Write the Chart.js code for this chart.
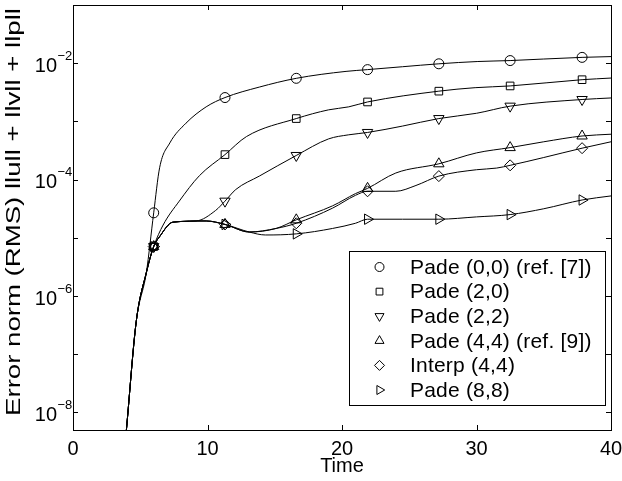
<!DOCTYPE html>
<html>
<head>
<meta charset="utf-8">
<script src="https://cdn.jsdelivr.net/npm/chart.js@4.4.0/dist/chart.umd.min.js"></script>
<style>
body { margin: 0; background: #fff; }
#wrap { width: 622px; height: 481px; }
</style>
</head>
<body>
<div id="wrap"><canvas id="myChart" width="622" height="481"></canvas></div>
<script>
// times where markers are drawn
const markerTimes = [6, 11.3, 16.6, 21.9, 27.2, 32.5, 37.85];

const pade00T = [3.97, 4.7, 5.45, 6.0, 6.44, 7.2, 8.4, 9.9, 11.3, 13.85, 16.6, 20.3, 21.9, 24.5, 27.2, 30.1, 32.5, 35, 37.85, 40];
const pade00V = [5.0e-9, 3.63e-7, 2.51e-6, 2.69e-5, 1.60e-4, 4.27e-4, 9.33e-4, 1.78e-3, 2.57e-3, 3.89e-3, 5.50e-3, 7.24e-3, 7.76e-3, 8.7e-3, 9.77e-3, 1.07e-2, 1.11e-2, 1.18e-2, 1.26e-2, 1.30e-2];

const pade20T = [3.97, 4.7, 5.45, 6.0, 6.7, 7.9, 9.4, 11.3, 12.9, 16.6, 19, 20.5, 21.9, 27.2, 29.9, 32.5, 37.85, 40];
const pade20V = [5.0e-9, 3.63e-7, 2.51e-6, 7.08e-6, 1.66e-5, 4.27e-5, 1.17e-4, 2.69e-4, 5.50e-4, 1.12e-3, 1.58e-3, 1.78e-3, 2.16e-3, 3.31e-3, 3.80e-3, 4.07e-3, 5.21e-3, 5.56e-3];

const pade22T = [3.97, 4.7, 5.45, 6.0, 6.44, 7.43, 9.16, 10.6, 11.3, 12.1, 13.85, 16.6, 19, 20.5, 21.9, 24.5, 27.2, 30, 32.5, 37.85, 40];
const pade22V = [5.0e-9, 3.63e-7, 2.51e-6, 7.08e-6, 1.05e-5, 1.86e-5, 1.95e-5, 2.95e-5, 4.27e-5, 6.76e-5, 1.15e-4, 2.60e-4, 5.01e-4, 5.89e-4, 6.46e-4, 8.32e-4, 1.12e-3, 1.38e-3, 1.83e-3, 2.38e-3, 2.53e-3];

const pade44T = [3.97, 4.7, 5.45, 6.0, 6.44, 7.43, 9.9, 11.3, 13.1, 15.1, 16.6, 19.3, 21, 21.9, 24, 27.2, 30, 32.5, 35, 37.85, 40];
const pade44V = [5.0e-9, 3.63e-7, 2.51e-6, 7.08e-6, 1.05e-5, 1.86e-5, 1.95e-5, 1.70e-5, 1.26e-5, 1.45e-5, 2.04e-5, 3.55e-5, 5.75e-5, 7.08e-5, 1.30e-4, 1.87e-4, 2.88e-4, 3.55e-4, 4.47e-4, 5.62e-4, 6.03e-4];

const interpT = [3.97, 4.7, 5.45, 6.0, 6.44, 7.43, 9.9, 11.3, 13.1, 15.1, 16.6, 19.3, 21, 21.9, 24, 25.5, 27.2, 30, 31.5, 32.5, 35, 37.85, 40];
const interpV = [5.0e-9, 3.63e-7, 2.51e-6, 7.08e-6, 1.05e-5, 1.86e-5, 1.95e-5, 1.70e-5, 1.26e-5, 1.45e-5, 1.78e-5, 3.24e-5, 5.37e-5, 6.31e-5, 6.31e-5, 7.94e-5, 1.15e-4, 1.48e-4, 1.58e-4, 1.76e-4, 2.40e-4, 3.47e-4, 4.47e-4];

const pade88T = [3.97, 4.7, 5.45, 6.0, 6.44, 7.43, 9.9, 11.3, 13.1, 14.3, 16.6, 19.3, 21, 21.9, 24.5, 27.2, 30, 32.5, 35, 37.85, 40];
const pade88V = [5.0e-9, 3.63e-7, 2.51e-6, 7.08e-6, 1.05e-5, 1.86e-5, 1.95e-5, 1.70e-5, 1.26e-5, 1.12e-5, 1.17e-5, 1.45e-5, 1.78e-5, 2.09e-5, 2.09e-5, 2.09e-5, 2.29e-5, 2.51e-5, 3.16e-5, 4.47e-5, 5.25e-5];

const seriesLabels = ['Pade (0,0) (ref. [7])', 'Pade (2,0)', 'Pade (2,2)', 'Pade (4,4) (ref. [9])', 'Interp (4,4)', 'Pade (8,8)'];
const yTitle = 'Error norm (RMS) llull + llvll + llpll';

const xTicks = [0, 10, 20, 30, 40];
const yDecades = [1e-8, 1e-7, 1e-6, 1e-5, 1e-4, 1e-3, 1e-2];
const yLabelExps = [-8, -6, -4, -2];

const FONT = '"Liberation Sans", Arial, Helvetica, sans-serif';

const styles = [
  {pointStyle: 'circle', rotation: 0, radius: 5, legendRadius: 4.5},
  {pointStyle: 'rect', rotation: 0, radius: 5.4, legendRadius: 4.8},
  {pointStyle: 'triangle', rotation: 180, radius: 6, legendRadius: 5.2},
  {pointStyle: 'triangle', rotation: 0, radius: 6, legendRadius: 5.2},
  {pointStyle: 'rectRot', rotation: 0, radius: 5.5, legendRadius: 5},
  {pointStyle: 'triangle', rotation: 90, radius: 6, legendRadius: 5.2}
];

function pts(t, v) {
  return t.map((x, i) => ({x: x, y: v[i]}));
}

const allData = [
  pts(pade00T, pade00V), pts(pade20T, pade20V), pts(pade22T, pade22V),
  pts(pade44T, pade44V), pts(interpT, interpV), pts(pade88T, pade88V)
];

const datasets = allData.map((d, i) => ({
  label: seriesLabels[i],
  data: d,
  borderColor: '#000',
  borderWidth: 1,
  pointStyle: styles[i].pointStyle,
  pointRotation: styles[i].rotation,
  pointRadius: ctx => markerTimes.includes(ctx.raw.x) ? styles[i].radius : 0,
  pointBorderColor: '#000',
  pointBorderWidth: 1,
  pointBackgroundColor: 'rgba(0,0,0,0)',
  cubicInterpolationMode: 'monotone',
  fill: false
}));

// frame with inward ticks, y labels with superscripts, y title, legend box
const framePlugin = {
  id: 'frame',
  afterDraw(chart) {
    const ctx = chart.ctx;
    const a = chart.chartArea;
    const xs = chart.scales.x, ys = chart.scales.y;
    ctx.save();
    ctx.strokeStyle = '#000';
    ctx.lineWidth = 1;
    ctx.strokeRect(Math.round(a.left) + 0.5, Math.round(a.top) + 0.5,
      Math.round(a.right - a.left), Math.round(a.bottom - a.top));
    ctx.beginPath();
    xTicks.forEach(v => {
      const px = Math.round(xs.getPixelForValue(v)) + 0.5;
      ctx.moveTo(px, a.bottom); ctx.lineTo(px, a.bottom - 5);
      ctx.moveTo(px, a.top); ctx.lineTo(px, a.top + 5);
    });
    yDecades.forEach(v => {
      const py = Math.round(ys.getPixelForValue(v)) + 0.5;
      ctx.moveTo(a.left, py); ctx.lineTo(a.left + 5, py);
      ctx.moveTo(a.right, py); ctx.lineTo(a.right - 5, py);
    });
    ctx.stroke();

    ctx.fillStyle = '#000';
    ctx.textBaseline = 'alphabetic';
    yLabelExps.forEach(e => {
      const py = ys.getPixelForValue(Math.pow(10, e));
      ctx.font = '20px ' + FONT;
      ctx.textAlign = 'right';
      ctx.fillText('10', 57, py + 8.5);
      ctx.font = '13px ' + FONT;
      ctx.textAlign = 'left';
      ctx.fillText('\u2212' + Math.abs(e), 57.5, py - 3.5);
    });

    // y axis title (stretched along its length like the original)
    ctx.save();
    ctx.translate(14, 212);
    ctx.rotate(-Math.PI / 2);
    ctx.scale(1.38, 1);
    ctx.font = '20px ' + FONT;
    ctx.textAlign = 'center';
    ctx.textBaseline = 'middle';
    ctx.fillText(yTitle, 0, 0);
    ctx.restore();

    // legend
    const bx = 349, by = 251, bw = 256, bh = 154;
    ctx.fillStyle = '#fff';
    ctx.fillRect(bx, by, bw, bh);
    ctx.strokeRect(bx + 0.5, by + 0.5, bw, bh);
    ctx.font = '21px ' + FONT;
    ctx.letterSpacing = '0.2px';
    ctx.textAlign = 'left';
    ctx.textBaseline = 'middle';
    seriesLabels.forEach((lab, i) => {
      const cy = by + 16 + i * 24.6;
      ctx.fillStyle = 'rgba(0,0,0,0)';
      ctx.strokeStyle = '#000';
      Chart.helpers.drawPoint(ctx, {
        pointStyle: styles[i].pointStyle,
        rotation: styles[i].rotation,
        radius: styles[i].legendRadius,
        borderWidth: 1
      }, 379.5, cy);
      ctx.fillStyle = '#000';
      ctx.fillText(lab, 410, cy + 1);
    });
    ctx.restore();
  }
};

const ctx = document.getElementById('myChart').getContext('2d');
const myChart = new Chart(ctx, {
  type: 'line',
  data: { datasets: datasets },
  options: {
    responsive: false,
    animation: false,
    devicePixelRatio: 1,
    layout: { padding: { left: 0, top: 5, right: 11, bottom: 0 } },
    plugins: { legend: { display: false }, tooltip: { enabled: false } },
    scales: {
      x: {
        type: 'linear',
        min: 0, max: 40,
        grid: { display: false, drawTicks: false },
        border: { display: false },
        ticks: { stepSize: 10, padding: 7, color: '#000', font: { size: 20, family: FONT } },
        title: { display: true, text: 'Time', color: '#000', font: { size: 20, family: FONT }, padding: { top: 0, bottom: 3 } },
        afterFit: s => { s.height = 51; s.paddingLeft = 0; s.paddingRight = 0; }
      },
      y: {
        type: 'logarithmic',
        min: 5e-9, max: 0.1,
        grid: { display: false, drawTicks: false },
        border: { display: false },
        ticks: { display: false },
        afterBuildTicks: s => { s.ticks = yDecades.map(v => ({ value: v })); },
        afterFit: s => { s.width = 73; s.paddingTop = 0; s.paddingBottom = 0; }
      }
    }
  },
  plugins: [framePlugin]
});
</script>
</body>
</html>
